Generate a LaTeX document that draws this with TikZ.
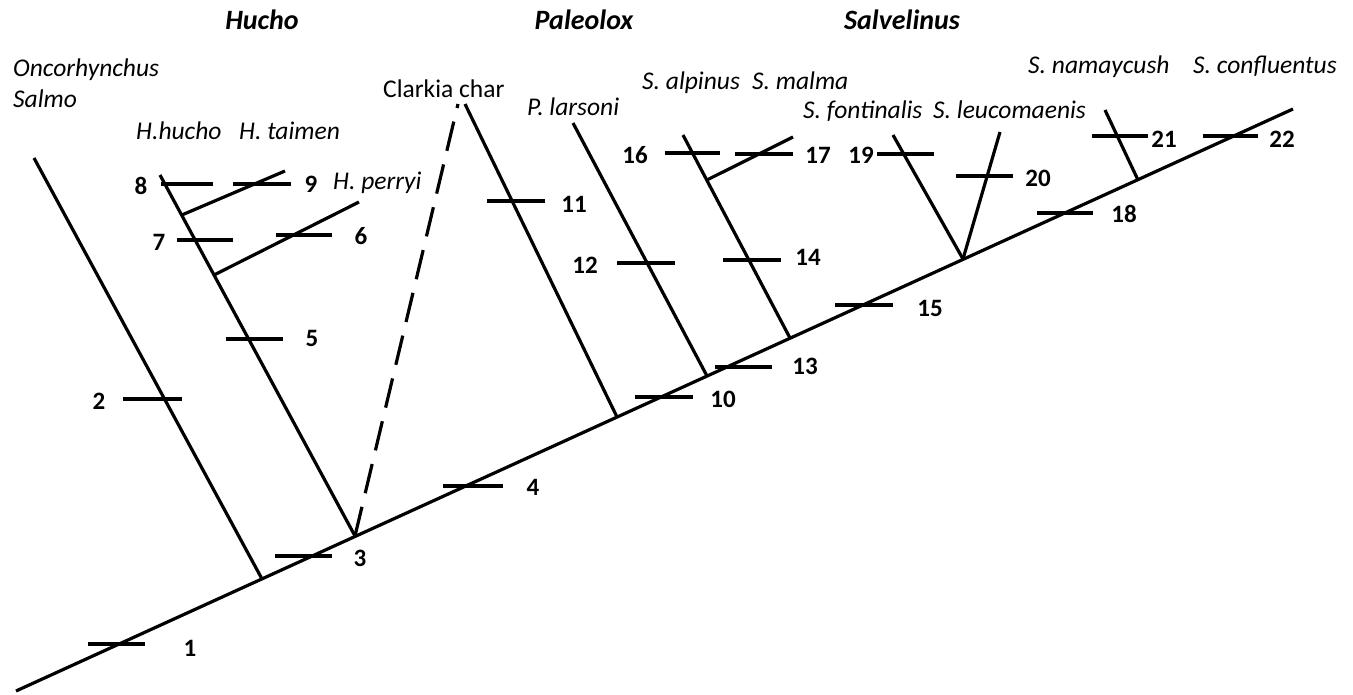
\documentclass[tikz,border=0pt]{standalone}
\usepackage{fontspec}
\setmainfont{Carlito}
\usetikzlibrary{calc}
\begin{document}
\begin{tikzpicture}[x=1pt,y=-1pt,
  br/.style={line width=3.2pt},
  tk/.style={line width=3.2pt},
  dsh/.style={line width=3.2pt, dash pattern=on 30pt off 14pt},
  num/.style={font=\fontsize{25}{29}\selectfont\bfseries, inner sep=0pt, anchor=center},
  sp/.style={font=\fontsize{25.5}{30}\selectfont\itshape, inner sep=0pt, anchor=base west},
  up/.style={font=\fontsize{25.5}{30}\selectfont, inner sep=0pt, anchor=base west},
  gen/.style={font=\fontsize{28}{32}\selectfont\bfseries\itshape, inner sep=0pt, anchor=base},
]
\useasboundingbox[fill=white] (0,0) rectangle (1353,694);

% trunk and junctions
\coordinate (root) at (16,691);
\coordinate (top) at (1293,109);
\coordinate (j2) at (262,579);
\coordinate (j3) at (355,536);
\coordinate (j11) at (617,417);
\coordinate (j12) at (707,376);
\coordinate (j13) at (790,338);
\coordinate (j15) at (963,259);
\coordinate (j18) at (1138,180);
% tips
\coordinate (onc) at (34,158);
\coordinate (huc) at (160,175);
\coordinate (cla) at (458,104);
\coordinate (c11) at (465,104);
\coordinate (lar) at (573,123);
\coordinate (alp) at (683,135);
\coordinate (fon) at (893,135);
\coordinate (leu) at (1000,132);
\coordinate (nam) at (1105,110);
\coordinate (per) at (359,202);
\coordinate (tai) at (285,171);
\coordinate (mal) at (793,137);
\coordinate (jper) at ($(j3)!0.723!(huc)$);
\coordinate (jtai) at ($(j3)!0.889!(huc)$);
\coordinate (jmal) at ($(j13)!0.778!(alp)$);

\draw[br] (root) -- (top);
\draw[br] (j2) -- (onc);
\draw[br] (j3) -- (huc);
\draw[br] (jper) -- (per);
\draw[br] (jtai) -- (tai);
\draw[dsh] (j3) -- (cla);
\draw[br] (j11) -- (c11);
\draw[br] (j12) -- (lar);
\draw[br] (j13) -- (alp);
\draw[br] (jmal) -- (mal);
\draw[br] (j15) -- (fon);
\draw[br] (j15) -- (leu);
\draw[br] (j18) -- (nam);

% character ticks and numbers
\draw[tk] (88,644) -- (145,644);   \node[num] (n1) at (190,648) {1};
\draw[tk] (123,399) -- (182,399);  \node[num] (n2) at (99,401) {2};
\draw[tk] (275,556) -- (332,556);  \node[num] (n3) at (360,558) {3};
\draw[tk] (443,486) -- (503,486);  \node[num] (n4) at (533,487) {4};
\draw[tk] (226,339) -- (283,339);  \node[num] (n5) at (312,338) {5};
\draw[tk] (276,235) -- (332,235);  \node[num] (n6) at (361,236) {6};
\draw[tk] (177,240) -- (233,240);  \node[num] (n7) at (159,242) {7};
\draw[tk] (161,184) -- (213,184);  \node[num] (n8) at (141,186) {8};
\draw[tk] (233,184) -- (291,184);  \node[num] (n9) at (311,184) {9};
\draw[tk] (635,397) -- (693,397);  \node[num] (n10) at (723,399) {10};
\draw[tk] (487,201) -- (545,201);  \node[num] (n11) at (574,204) {11};
\draw[tk] (617,263) -- (675,263);  \node[num] (n12) at (585,265) {12};
\draw[tk] (715,367) -- (772,367);  \node[num] (n13) at (805,366) {13};
\draw[tk] (723,260) -- (781,260);  \node[num] (n14) at (808,257) {14};
\draw[tk] (835,305) -- (893,305);  \node[num] (n15) at (930,308) {15};
\draw[tk] (665,153) -- (720,153);  \node[num] (n16) at (635,155) {16};
\draw[tk] (735,154) -- (793,154);  \node[num] (n17) at (818,155) {17};
\draw[tk] (1037,213) -- (1093,213); \node[num] (n18) at (1124,214) {18};
\draw[tk] (877,154) -- (934,154);  \node[num] (n19) at (861,155) {19};
\draw[tk] (956,176) -- (1013,176); \node[num] (n20) at (1038,178) {20};
\draw[tk] (1092,136) -- (1148,136); \node[num] (n21) at (1164,139) {21};
\draw[tk] (1203,136) -- (1258,136); \node[num] (n22) at (1282,139) {22};

% taxon names
\node[sp] (tonc) at (13,76) {Oncorhynchus};
\node[sp] (tsal) at (13,107) {Salmo};
\node[sp] (thuc) at (136,139) {H.hucho};
\node[sp] (ttai) at (239,139) {H. taimen};
\node[sp] (tper) at (333,189) {H. perryi};
\node[up] (tcla) at (383,97) {Clarkia char};
\node[sp] (tlar) at (527,115) {P. larsoni};
\node[sp] (talp) at (642,89) {S. alpinus};
\node[sp] (tmal) at (752,89) {S. malma};
\node[sp] (tfon) at (803,118) {S. fontinalis};
\node[sp] (tleu) at (933,118) {S. leucomaenis};
\node[sp] (tnam) at (1028,73) {S. namaycush};
\node[sp] (tcon) at (1193,73) {S. confluentus};

% genera
\node[gen] (ghuc) at (262,29) {Hucho};
\node[gen] (gpal) at (584,29) {Paleolox};
\node[gen] (gsal) at (902,29) {Salvelinus};
\end{tikzpicture}
\end{document}
